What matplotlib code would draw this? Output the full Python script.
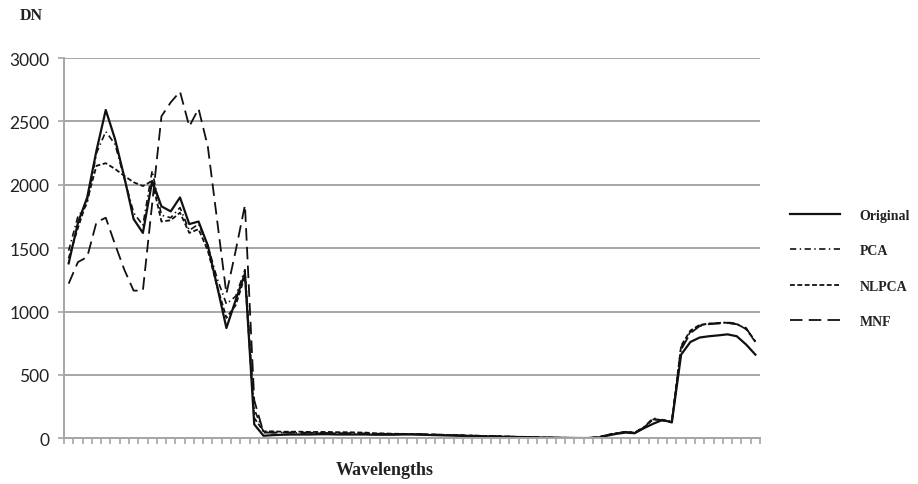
import matplotlib.pyplot as plt
import numpy as np

plt.rcParams['lines.scale_dashes'] = False

# DN values per band (75 bands)
original = [1380, 1700, 1900, 2270, 2590, 2360, 2060, 1730, 1620, 2030,
            1830, 1790, 1900, 1690, 1710, 1520, 1200, 870, 1090, 1300,
            110, 20, 25, 28, 30, 30, 30, 32, 32, 30,
            30, 30, 30, 28, 28, 28, 30, 30, 28, 26,
            24, 22, 20, 18, 16, 15, 14, 12, 10, 10,
            8, 6, 5, 4, 3, 2, 2, 5, 20, 35,
            45, 40, 80, 115, 145, 125, 660, 760, 795, 805,
            812, 820, 805, 740, 660]

pca = [1480, 1750, 1850, 2250, 2420, 2320, 2050, 1780, 1680, 2110,
       1760, 1740, 1820, 1640, 1690, 1520, 1260, 1060, 1120, 1330,
       230, 50, 45, 45, 45, 42, 42, 40, 40, 40,
       38, 38, 36, 35, 35, 34, 34, 33, 32, 30,
       28, 26, 24, 22, 20, 18, 16, 14, 12, 10,
       8, 6, 5, 4, 3, 3, 3, 8, 25, 40,
       50, 45, 90, 160, 140, 135, 720, 840, 890, 905,
       910, 915, 905, 860, 760]

nlpca = [1420, 1660, 1880, 2150, 2170, 2125, 2070, 2020, 1990, 2030,
         1710, 1720, 1780, 1620, 1650, 1480, 1200, 950, 1050, 1280,
         160, 55, 55, 52, 52, 52, 50, 50, 50, 48,
         48, 46, 45, 40, 38, 36, 35, 34, 32, 30,
         28, 26, 24, 22, 20, 18, 16, 14, 12, 10,
         8, 6, 5, 4, 3, 3, 3, 8, 25, 40,
         50, 45, 85, 150, 145, 130, 730, 850, 895, 905,
         910, 912, 900, 865, 765]

mnf = [1220, 1390, 1430, 1705, 1740, 1530, 1330, 1165, 1165, 1850,
       2540, 2650, 2735, 2460, 2600, 2300, 1720, 1140, 1480, 1840,
       300, 45, 45, 45, 45, 45, 44, 42, 42, 40,
       40, 38, 38, 36, 35, 35, 34, 33, 32, 30,
       28, 26, 24, 22, 20, 18, 16, 14, 12, 10,
       8, 6, 5, 4, 3, 3, 3, 8, 25, 40,
       50, 45, 85, 150, 140, 130, 700, 830, 885, 900,
       905, 910, 900, 870, 760]

yticks = [0, 500, 1000, 1500, 2000, 2500, 3000]
grey = '#a6a6a6'

fig = plt.figure(figsize=(9.18, 4.85), dpi=100)
ax = fig.add_axes([64 / 918, 1 - 439.3 / 485, (760 - 64) / 918, (439.3 - 59) / 485])

x = np.arange(len(original))
ax.plot(x, original, color='#111111', lw=1.6, ls='-', label='Original')
ax.plot(x, pca, color='#111111', lw=1.2, ls=(0, (4.5, 2.5, 1.0, 2.5)), label='PCA')
ax.plot(x, nlpca, color='#111111', lw=1.3, ls=(0, (3.5, 1.8)), label='NLPCA')
ax.plot(x, mnf, color='#111111', lw=1.3, ls=(0, (9, 4.5)), label='MNF')

ax.set_xlim(-0.5, len(original) - 0.5)
ax.set_ylim(0, 3000)
ax.set_yticks(yticks)
ax.set_xticks(np.arange(-0.5, len(original), 1))
ax.set_xticklabels([])
ax.yaxis.grid(True, color=grey, lw=1.4)
ax.set_axisbelow(True)
for s in ['top', 'right']:
    ax.spines[s].set_visible(False)
for s in ['left', 'bottom']:
    ax.spines[s].set_color(grey)
    ax.spines[s].set_linewidth(1.4)
ax.tick_params(axis='y', colors=grey, labelcolor='#222222', length=4.5, width=1.2,
               pad=6, labelsize=12.5)
ax.tick_params(axis='x', colors=grey, length=4.5, width=1.2, direction='out')
for lab in ax.get_yticklabels():
    lab.set_family('Lato')

fig.text(20 / 918, 1 - 16 / 485, 'DN', family='Liberation Serif', weight='bold',
         fontsize=11.5, va='center', ha='left', color='#222222')
fig.text(385 / 918, 1 - 471 / 485, 'Wavelengths', family='Liberation Serif',
         weight='bold', fontsize=13, va='center', ha='center', color='#222222')

leg = ax.legend(loc='center left', bbox_to_anchor=(790 / 918, 1 - 269.5 / 485),
                bbox_transform=fig.transFigure, frameon=False, borderpad=0,
                borderaxespad=0, handlelength=3.6, handletextpad=1.4,
                labelspacing=1.62, prop={'family': 'Liberation Serif',
                                         'weight': 'bold', 'size': 10})
for t in leg.get_texts():
    t.set_color('#222222')

fig.savefig('out.png', dpi=100)
